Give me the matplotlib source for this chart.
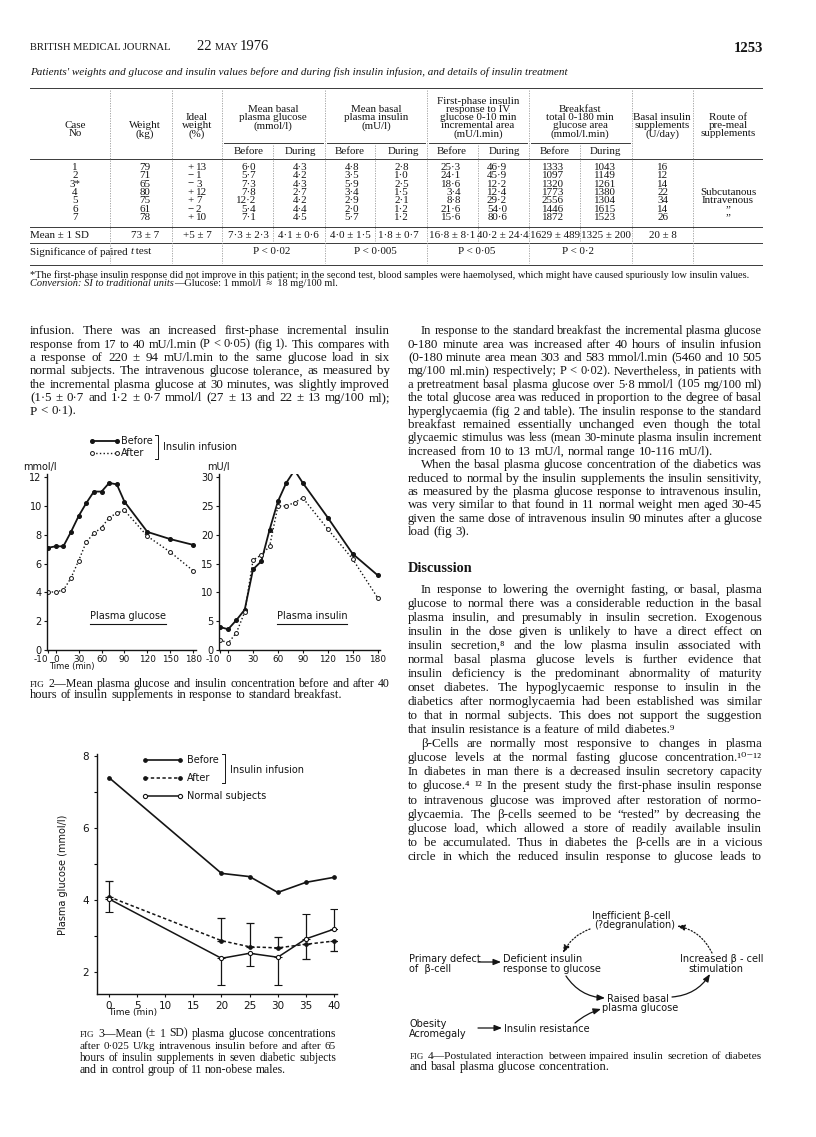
import matplotlib
matplotlib.use("Agg")
import matplotlib.pyplot as plt
import numpy as np

# ---------------- table data ----------------
case_no = ['1', '2', '3*', '4', '5', '6', '7']
weight = [79, 71, 65, 80, 75, 61, 78]
ideal = [13, -1, -3, 12, 7, -2, 10]
glu_before = [6.0, 5.7, 7.3, 7.8, 12.2, 5.4, 7.1]
glu_during = [4.3, 4.2, 4.3, 2.7, 4.2, 4.4, 4.5]
ins_before = [4.8, 3.5, 5.9, 3.4, 2.9, 2.0, 5.7]
ins_during = [2.8, 1.0, 2.5, 1.5, 2.1, 1.2, 1.2]
fp_before = [25.3, 24.1, 18.6, 3.4, 8.8, 21.6, 15.6]
fp_during = [46.9, 45.9, 12.2, 12.4, 29.2, 54.0, 80.6]
bf_before = [1333, 1097, 1320, 1773, 2556, 1446, 1872]
bf_during = [1043, 1149, 1261, 1380, 1304, 1615, 1523]
basal_supp = [16, 12, 14, 22, 34, 14, 26]
route = ['', '', '', 'Subcutanous', 'Intravenous', '\u201d', '\u201d']
mean_sd = ['73 ± 7', '+5 ± 7', '7·3 ± 2·3', '4·1 ± 0·6', '4·0 ± 1·5', '1·8 ± 0·7',
           '16·8 ± 8·1', '40·2 ± 24·4', '1629 ± 489', '1325 ± 200', '20 ± 8']
signif = ['P < 0·02', 'P < 0·005', 'P < 0·05', 'P < 0·2']

col_heads = [['Case', 'No'], ['Weight', '(kg)'], ['Ideal', 'weight', '(%)'],
             ['Mean basal', 'plasma glucose', '(mmol/l)'],
             ['Mean basal', 'plasma insulin', '(mU/l)'],
             ['First-phase insulin', 'response to IV', 'glucose 0-10 min',
              'incremental area', '(mU/l.min)'],
             ['Breakfast', 'total 0-180 min', 'glucose area', '(mmol/l.min)'],
             ['Basal insulin', 'supplements', '(U/day)'],
             ['Route of', 'pre-meal', 'supplements']]

# ---------------- fig 2 data ----------------
t2 = [-10, 0, 10, 20, 30, 40, 50, 60, 70, 80, 90, 120, 150, 180]
glu_bef = [7.1, 7.2, 7.2, 8.2, 9.3, 10.2, 11.0, 11.0, 11.6, 11.5, 10.3, 8.2, 7.7, 7.3]
glu_aft = [4.0, 4.05, 4.15, 5.0, 6.2, 7.5, 8.1, 8.5, 9.2, 9.5, 9.7, 7.9, 6.8, 5.5]
ins_bef = [4.0, 3.6, 5.2, 7.0, 14.0, 15.4, 20.9, 25.8, 29.0, 31.2, 29.0, 23.0, 16.7, 13.0]
ins_aft = [1.8, 1.2, 3.0, 6.6, 15.6, 16.5, 18.0, 25.0, 25.0, 25.6, 26.4, 21.0, 15.8, 9.1]
t2_ticks = [-10, 0, 30, 60, 90, 120, 150, 180]

# ---------------- fig 3 data ----------------
t3 = [0, 20, 25, 30, 35, 40]
before3 = [7.4, 4.74, 4.65, 4.21, 4.49, 4.63]
after3 = [4.09, 2.87, 2.70, 2.67, 2.77, 2.86]
normal3 = [4.03, 2.38, 2.52, 2.41, 2.92, 3.19]
after3_sd = [0.45, 0.64, 0.65, 0.29, 0.41, 0.27]
normal3_sd = [0.35, 0.74, 0.35, 0.77, 0.68, 0.55]
after3_up = [1, 1, 1, 1, 0, 0]   # which side the SD bar is drawn on
t3_ticks = [0, 5, 10, 15, 20, 25, 30, 35, 40]

W, H = 816, 1137
INK = '#141414'
SERIF = ['Liberation Serif', 'DejaVu Serif']
SANS = ['DejaVu Sans']

fig = plt.figure(figsize=(W / 100, H / 100), dpi=100)
fig.patch.set_facecolor('white')
pg = fig.add_axes([0, 0, 1, 1])
pg.set_xlim(0, W)
pg.set_ylim(H, 0)
pg.axis('off')
R = fig.canvas.get_renderer()


def width(t):
    return t.get_window_extent(renderer=R).width


def txt(x, y, s, size, fam=SERIF, **kw):
    kw.setdefault('va', 'center')
    kw.setdefault('color', INK)
    return pg.text(x, y, s, fontsize=size, family=fam, **kw)


def wline(x0, x1, y, line, size, justify=True, fam=SERIF):
    base = y + 0.32 * size / 0.72
    ts, ws, szs = [], [], []
    for w in line.split():
        kw = {}
        s = size
        if w.startswith('^'):
            w = w[1:]
            s = size * 0.78
        if w.startswith('_'):
            w = w[1:]
            kw['style'] = 'italic'
        t = pg.text(x0, base, w, fontsize=s, family=fam, va='baseline', ha='left',
                    color=INK, **kw)
        ts.append(t)
        szs.append(s)
        ws.append(width(t))
    sp = 0.25 * size / 0.72
    natural = sum(ws) + sp * (len(ts) - 1)
    if natural > (x1 - x0) * 0.995:
        k = (x1 - x0) * 0.99 / natural
        for t, s in zip(ts, szs):
            t.set_fontsize(s * k)
        ws = [width(t) for t in ts]
        sp *= k
    if justify and len(ts) > 1:
        sp = (x1 - x0 - sum(ws)) / (len(ts) - 1)
    x = x0
    for t, w in zip(ts, ws):
        t.set_x(x)
        x += w + sp


def para(lines, x0, x1, y0, dy, size, indent=0, last_just=False):
    for i, ln in enumerate(lines):
        xs = x0 + (indent if i == 0 else 0)
        last = i == len(lines) - 1
        wline(xs, x1, y0 + i * dy, ln, size, justify=(not last) or last_just)


def run(x, y, pieces, size, fam=SERIF):
    for s, kw in pieces:
        kw = dict(kw)
        sz = kw.pop('fontsize', size)
        t = txt(x, y, s, sz, fam=fam, ha='left', **kw)
        x += width(t)


def f1(v):
    return f'{v:.1f}'.replace('.', '·')


# ---------------- page header ----------------
t = txt(30, 48, 'BRITISH MEDICAL JOURNAL', 7.6, ha='left')
run(197, 47, [('22 ', {}), ('MAY ', {'fontsize': 7.4}), ('1976', {})], 10.5)
txt(763, 48, '1253', 10.5, ha='right', weight='bold')

t = txt(30, 72, "Patients' weights and glucose and insulin values before and during fish "
        "insulin infusion, and details of insulin treatment", 8, ha='left', style='italic')
t.set_fontsize(8 * 537 / width(t))

# ---------------- table ----------------
LC = '#3a3a3a'
for yy in [88, 159, 227, 243, 265]:
    pg.plot([30, 762], [yy, yy], color=LC, lw=0.7)
for a, b in [(224, 323), (327, 425), (429, 527), (531, 630)]:
    pg.plot([a, b], [143, 143], color=LC, lw=0.7)
for xx in [110, 172, 222, 325, 427, 529, 632, 693]:
    pg.plot([xx, xx], [90, 263], color='#9a9a9a', lw=0.6, ls=(0, (1.5, 1.5)))
for xx in [273, 375, 478, 580]:
    pg.plot([xx, xx], [145, 241], color='#9a9a9a', lw=0.6, ls=(0, (1.5, 1.5)))

TS = 7.9
head_x = [75, 145, 197, 273, 376, 478, 580, 662, 728]
for cx, lines in zip(head_x, col_heads):
    n = len(lines)
    ys = [134 - 8.2 * (n - 1 - i) for i in range(n)]
    if n == 3 and cx in (273, 376):
        ys = [109, 118, 126]
    if n == 4:
        ys = [109, 117.5, 126, 134]
    for yy, s in zip(ys, lines):
        txt(cx, yy, s, TS, ha='center')

for cx in [249, 350, 452, 555]:
    txt(cx, 151, 'Before', TS, ha='center')
for cx in [300, 403, 504, 605]:
    txt(cx, 151, 'During', TS, ha='center')

for i in range(7):
    yy = 167.3 + i * 8.4
    txt(75, yy, case_no[i], TS, ha='center')
    txt(145, yy, str(weight[i]), TS, ha='center')
    sg = '+' if ideal[i] > 0 else '−'
    txt(187, yy, sg, TS, ha='left')
    txt(196, yy, str(abs(ideal[i])), TS, ha='left')
    txt(256, yy, f1(glu_before[i]), TS, ha='right')
    txt(307, yy, f1(glu_during[i]), TS, ha='right')
    txt(359, yy, f1(ins_before[i]), TS, ha='right')
    txt(409, yy, f1(ins_during[i]), TS, ha='right')
    txt(461, yy, f1(fp_before[i]), TS, ha='right')
    txt(507, yy, f1(fp_during[i]), TS, ha='right')
    txt(564, yy, str(bf_before[i]), TS, ha='right')
    txt(616, yy, str(bf_during[i]), TS, ha='right')
    txt(663, yy, str(basal_supp[i]), TS, ha='center')
    txt(728, yy, route[i], TS, ha='center')

txt(30, 235, 'Mean ± 1 SD', TS, ha='left')
for cx, s in zip([145, 197, 248, 298, 350, 398, 452, 503, 555, 606, 663], mean_sd):
    txt(cx, 235, s, TS, ha='center')
run(30, 252, [('Significance of paired ', {}), ('t', {'style': 'italic'}), (' test', {})], TS)
for cx, s in zip([272, 375, 477, 578], signif):
    txt(cx, 252, s, TS, ha='center')

t = txt(30, 275, '*The first-phase insulin response did not improve in this patient; in the second '
        'test, blood samples were haemolysed, which might have caused spuriously low insulin values.',
        6.6, ha='left')
FN = 6.6 * 722 / width(t)
t.set_fontsize(FN)
run(30, 284, [('Conversion: SI to traditional units', {'style': 'italic'}),
              ('—Glucose: 1 mmol/l  ≈  18 mg/100 ml.', {})], FN)

# ---------------- body text ----------------
BS = 9.4
LD = 13.4
left_p = ["infusion. There was an increased first-phase incremental insulin",
          "response from 17 to 40 mU/l.min (P < 0·05) (fig 1). This compares with",
          "a response of 220 ± 94 mU/l.min to the same glucose load in six",
          "normal subjects. The intravenous glucose tolerance, as measured by",
          "the incremental plasma glucose at 30 minutes, was slightly improved",
          "(1·5 ± 0·7 and 1·2 ± 0·7 mmol/l (27 ± 13 and 22 ± 13 mg/100 ml);",
          "P < 0·1)."]
para(left_p, 30, 390, 330, LD, BS)

XR0, XR1 = 408, 762
p1 = ["In response to the standard breakfast the incremental plasma glucose",
      "0-180 minute area was increased after 40 hours of insulin infusion",
      "(0-180 minute area mean 303 and 583 mmol/l.min (5460 and 10\u00a0505",
      "mg/100 ml.min) respectively; P < 0·02). Nevertheless, in patients with",
      "a pretreatment basal plasma glucose over 5·8 mmol/l (105 mg/100 ml)",
      "the total glucose area was reduced in proportion to the degree of basal",
      "hyperglycaemia (fig 2 and table). The insulin response to the standard",
      "breakfast remained essentially unchanged even though the total",
      "glycaemic stimulus was less (mean 30-minute plasma insulin increment",
      "increased from 10 to 13 mU/l, normal range 10-116 mU/l)."]
para(p1, XR0, XR1, 330, LD, BS, indent=13)
p2 = ["When the basal plasma glucose concentration of the diabetics was",
      "reduced to normal by the insulin supplements the insulin sensitivity,",
      "as measured by the plasma glucose response to intravenous insulin,",
      "was very similar to that found in 11 normal weight men aged 30-45",
      "given the same dose of intravenous insulin 90 minutes after a glucose",
      "load (fig 3)."]
para(p2, XR0, XR1, 464, LD, BS, indent=13)

txt(XR0, 569, 'Discussion', 10.3, ha='left', weight='bold')
p3 = ["In response to lowering the overnight fasting, or basal, plasma",
      "glucose to normal there was a considerable reduction in the basal",
      "plasma insulin, and presumably in insulin secretion. Exogenous",
      "insulin in the dose given is unlikely to have a direct effect on",
      "insulin secretion,\u2078 and the low plasma insulin associated with",
      "normal basal plasma glucose levels is further evidence that",
      "insulin deficiency is the predominant abnormality of maturity",
      "onset diabetes. The hypoglycaemic response to insulin in the",
      "diabetics after normoglycaemia had been established was similar",
      "to that in normal subjects. This does not support the suggestion",
      "that insulin resistance is a feature of mild diabetes.\u2079"]
para(p3, XR0, XR1, 589, 14.0, BS, indent=13)
p4 = ["β-Cells are normally most responsive to changes in plasma",
      "glucose levels at the normal fasting glucose concentration.\u00b9\u2070\u207b\u00b9\u00b2",
      "In diabetes in man there is a decreased insulin secretory capacity",
      "to glucose.\u2074 \u00b9\u00b2 In the present study the first-phase insulin response",
      "to intravenous glucose was improved after restoration of normo-",
      "glycaemia. The β-cells seemed to be \u201crested\u201d by decreasing the",
      "glucose load, which allowed a store of readily available insulin",
      "to be accumulated. Thus in diabetes the β-cells are in a vicious",
      "circle in which the reduced insulin response to glucose leads to"]
para(p4, XR0, XR1, 743, 14.1, BS, indent=13, last_just=True)

# ---------------- captions ----------------
CS = 8.9
para(["^FIG 2—Mean plasma glucose and insulin concentration before and after 40",
      "hours of insulin supplements in response to standard breakfast."],
     30, 390, 683, 11.5, CS)
para(["^FIG 3—Mean (± 1 SD) plasma glucose concentrations",
      "after 0·025 U/kg intravenous insulin before and after 65",
      "hours of insulin supplements in seven diabetic subjects",
      "and in control group of 11 non-obese males."],
     80, 336, 1033, 12, 8.4)
para(["^FIG 4—Postulated interaction between impaired insulin secretion of diabetes",
      "and basal plasma glucose concentration."],
     410, 762, 1055, 11.5, CS)


# ---------------- plots ----------------
def pax(x0, y0, x1, y1):
    a = fig.add_axes([x0 / W, 1 - y1 / H, (x1 - x0) / W, (y1 - y0) / H])
    a.patch.set_alpha(0)
    for s in ['top', 'right']:
        a.spines[s].set_visible(False)
    for s in ['left', 'bottom']:
        a.spines[s].set_linewidth(1.0)
        a.spines[s].set_color(INK)
    a.tick_params(length=2.5, width=0.8, pad=1.5, labelsize=7, colors=INK)
    return a


SANS_SZ = 7

ax1 = pax(47.3, 474.3, 195.5, 650)
ax1.plot(t2, glu_bef, '-', color=INK, lw=1.3, marker='o', ms=2.6, mfc=INK, mec=INK)
ax1.plot(t2, glu_aft, ':', color=INK, lw=1.0, marker='o', ms=2.8, mfc='white', mec=INK,
         mew=0.7)
ax1.set_xlim(-11, 183)
ax1.set_ylim(0, 12.2)
ax1.set_yticks([0, 2, 4, 6, 8, 10, 12])
ax1.set_xticks(t2_ticks)

ax2 = pax(219, 474.3, 380, 650)
ax2.plot(t2, ins_bef, '-', color=INK, lw=1.3, marker='o', ms=2.6, mfc=INK, mec=INK)
ax2.plot(t2, ins_aft, ':', color=INK, lw=1.0, marker='o', ms=2.8, mfc='white', mec=INK,
         mew=0.7)
ax2.set_xlim(-11, 183)
ax2.set_ylim(0, 30.5)
ax2.set_yticks([0, 5, 10, 15, 20, 25, 30])
ax2.set_xticks(t2_ticks)
for a in (ax1, ax2):
    a.tick_params(axis='x', pad=1)
    a.set_xticklabels([str(v) for v in t2_ticks], family=SANS, fontsize=6.4)
    a.get_xticklabels()[0].set_ha('right')
    a.set_yticklabels([str(int(v)) for v in a.get_yticks()], family=SANS, fontsize=SANS_SZ)

txt(23, 467, 'mmol/l', SANS_SZ, fam=SANS, ha='left')
txt(207, 467, 'mU/l', SANS_SZ, fam=SANS, ha='left')
txt(72, 667, 'Time (min)', 6.0, fam=SANS, ha='center')
for cx, s in [(128, 'Plasma glucose'), (312, 'Plasma insulin')]:
    tt = txt(cx, 616, s, SANS_SZ, fam=SANS, ha='center')
    w = width(tt)
    pg.plot([cx - w / 2, cx + w / 2], [624, 624], color=INK, lw=0.8)

# fig 2 legend
pg.plot([92, 117], [441, 441], '-', color=INK, lw=1.3, marker='o', ms=2.6, mfc=INK)
pg.plot([92, 117], [453, 453], ':', color=INK, lw=1.0, marker='o', ms=2.8, mfc='white',
        mew=0.7)
txt(121, 441, 'Before', SANS_SZ, fam=SANS, ha='left')
txt(121, 453, 'After', SANS_SZ, fam=SANS, ha='left')
pg.plot([155, 158, 158, 155], [435, 435, 459, 459], color=INK, lw=0.7)
txt(163, 447, 'Insulin infusion', SANS_SZ, fam=SANS, ha='left')

# fig 3
ax3 = pax(96.6, 754.2, 336.8, 993.6)
ax3.plot(t3, before3, '-', color=INK, lw=1.2, marker='o', ms=2.4, mfc=INK, mec=INK)
aft_lo = [0 if u else s for s, u in zip(after3_sd, after3_up)]
aft_hi = [s if u else 0 for s, u in zip(after3_sd, after3_up)]
nor_lo = [s if u else 0 for s, u in zip(normal3_sd, after3_up)]
nor_hi = [0 if u else s for s, u in zip(normal3_sd, after3_up)]
ax3.errorbar(t3, after3, yerr=[aft_lo, aft_hi], fmt='o', ls=(0, (2.2, 1.6)), color=INK,
             lw=1.1, ms=2.4, mfc=INK, capsize=3, elinewidth=0.9, capthick=0.9)
ax3.errorbar(t3, normal3, yerr=[nor_lo, nor_hi], fmt='o-', color=INK, lw=1.1, ms=3,
             mfc='white', mec=INK, mew=0.8, capsize=3, elinewidth=0.9, capthick=0.9)
ax3.set_xlim(-2.2, 40.5)
ax3.set_ylim(1.4, 8.05)
ax3.set_yticks([2, 4, 6, 8])
ax3.set_yticks([3, 5, 7], minor=True)
ax3.set_xticks(t3_ticks)
ax3.tick_params(which='minor', length=2.5, width=0.8)
ax3.tick_params(pad=3)
ax3.set_xticklabels([str(v) for v in t3_ticks], family=SANS, fontsize=7.5)
ax3.set_yticklabels(['2', '4', '6', '8'], family=SANS, fontsize=7.5)
txt(63, 875, 'Plasma glucose (mmol/l)', 7, fam=SANS, ha='center', rotation=90)
txt(133, 1012, 'Time (min)', 6.5, fam=SANS, ha='center')

pg.plot([145, 180], [760, 760], '-', color=INK, lw=1.2, marker='o', ms=2.4, mfc=INK)
pg.plot([145, 180], [778, 778], ls=(0, (2.2, 1.6)), color=INK, lw=1.1, marker='o', ms=2.4,
        mfc=INK)
pg.plot([145, 180], [796, 796], '-', color=INK, lw=1.1, marker='o', ms=3, mfc='white',
        mew=0.8)
txt(187, 760, 'Before', 7, fam=SANS, ha='left')
txt(187, 778, 'After', 7, fam=SANS, ha='left')
txt(187, 796, 'Normal subjects', 7, fam=SANS, ha='left')
pg.plot([222, 225, 225, 222], [754, 754, 783, 783], color=INK, lw=0.7)
txt(230, 770, 'Insulin infusion', 7, fam=SANS, ha='left')

# ---------------- fig 4 diagram ----------------
FS = 7.0
txt(592, 916, 'Inefficient β-cell', FS, fam=SANS, ha='left')
txt(594, 925, '(?degranulation)', FS, fam=SANS, ha='left')
txt(409, 959, 'Primary defect', FS, fam=SANS, ha='left')
txt(409, 969, 'of  β-cell', FS, fam=SANS, ha='left')
txt(503, 959, 'Deficient insulin', FS, fam=SANS, ha='left')
txt(503, 969, 'response to glucose', FS, fam=SANS, ha='left')
txt(680, 959, 'Increased β - cell', FS, fam=SANS, ha='left')
txt(688, 969, 'stimulation', FS, fam=SANS, ha='left')
txt(607, 999, 'Raised basal', FS, fam=SANS, ha='left')
txt(602, 1008, 'plasma glucose', FS, fam=SANS, ha='left')
txt(409, 1024, 'Obesity', FS, fam=SANS, ha='left')
txt(409, 1034, 'Acromegaly', FS, fam=SANS, ha='left')
txt(504, 1029, 'Insulin resistance', FS, fam=SANS, ha='left')


def arrow(p0, p1, rad, ls='-'):
    pg.annotate('', xy=p1, xytext=p0,
                arrowprops=dict(arrowstyle='-|>,head_length=0.45,head_width=0.18',
                                connectionstyle=f'arc3,rad={rad}', color=INK, lw=0.9,
                                linestyle=ls, shrinkA=0, shrinkB=0))


arrow((478, 962), (501, 962), 0)
arrow((478, 1028), (502, 1028), 0)
arrow((566, 976), (605, 998), 0.25)
arrow((672, 997), (710, 974), 0.25)
arrow((575, 1023), (601, 1009), -0.1)
arrow((590, 929), (563, 953), 0.2, ls=':')
arrow((712, 953), (677, 926), 0.25, ls=':')

fig.savefig('out.png', dpi=100)
